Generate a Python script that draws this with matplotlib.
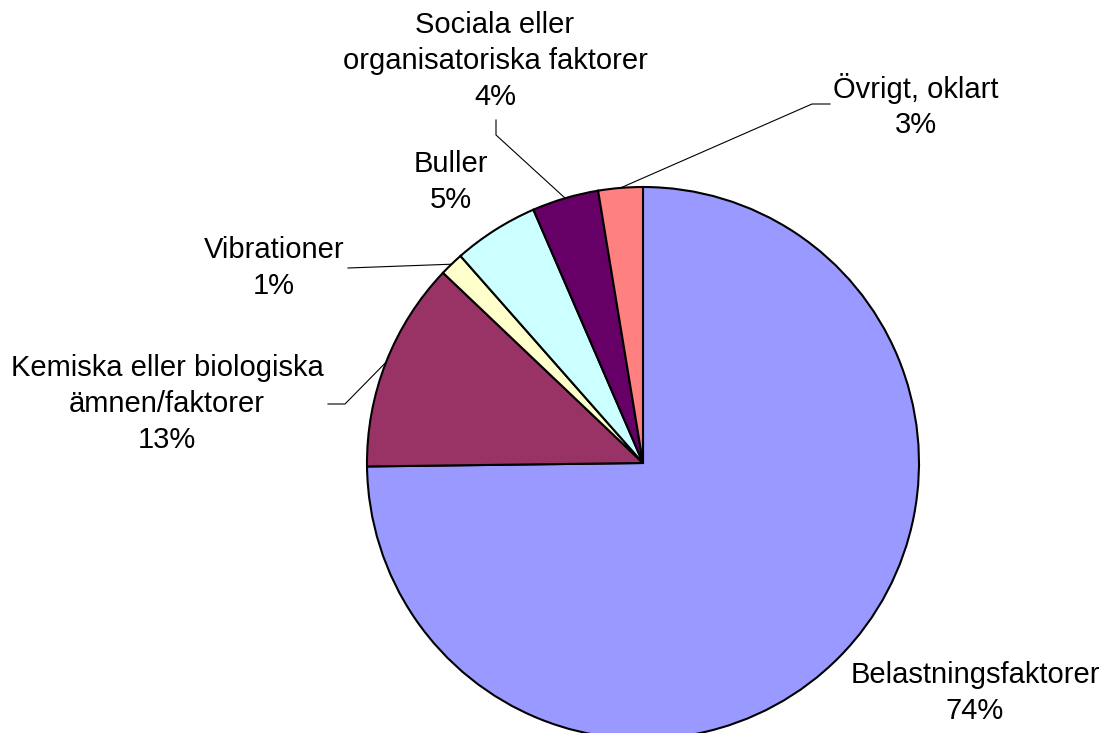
import matplotlib
matplotlib.use('Agg')
import matplotlib.pyplot as plt
import numpy as np

# slice data, clockwise from 12 o'clock
categories = ['Belastningsfaktorer', 'Kemiska eller biologiska\nämnen/faktorer', 'Vibrationer',
              'Buller', 'Sociala eller\norganisatoriska faktorer', 'Övrigt, oklart']
shares = [74.8, 12.3, 1.4, 5.0, 3.9, 2.6]
pct_labels = ['74%', '13%', '1%', '5%', '4%', '3%']  # as printed on the chart
colors = ['#9999FF', '#993366', '#FFFFCC', '#CCFFFF', '#660066', '#FF8080']

W, H = 1110, 733
cx, cy, R = 643, H - 463, 276

# label placement in image pixels (x, y from top) and leader line bends (None = no leader)
label_pos = [(975, 693), (167, 404), (274, 268), (451, 182), (495, 61), (916, 106)]
leaders = [None,
           [(328, 404), (345, 404)],
           [(348, 268)],
           None,
           [(496, 120), (496, 135)],
           [(830, 104), (812, 104)]]

plt.rcParams['font.family'] = ['Liberation Sans', 'DejaVu Sans']
fig = plt.figure(figsize=(W / 100, H / 100), dpi=100)
ax = fig.add_axes([0, 0, 1, 1])

wedges, _ = ax.pie(shares, colors=colors, startangle=90, counterclock=False,
                   center=(cx, cy), radius=R,
                   wedgeprops=dict(edgecolor='black', linewidth=1.5))
ax.set_xlim(0, W)
ax.set_ylim(0, H)
ax.set_aspect('equal')
ax.axis('off')

for w, cat, pct, (tx, ty), lead in zip(wedges, categories, pct_labels, label_pos, leaders):
    ax.text(tx, H - ty, f'{cat}\n{pct}', ha='center', va='center',
            fontsize=21, linespacing=1.35)
    if lead:
        mid = np.deg2rad((w.theta1 + w.theta2) / 2)
        xs = [p[0] for p in lead] + [cx + R * np.cos(mid)]
        ys = [H - p[1] for p in lead] + [cy + R * np.sin(mid)]
        ax.plot(xs, ys, color='black', linewidth=0.8)

fig.savefig('out.png', dpi=100)
plt.close(fig)
